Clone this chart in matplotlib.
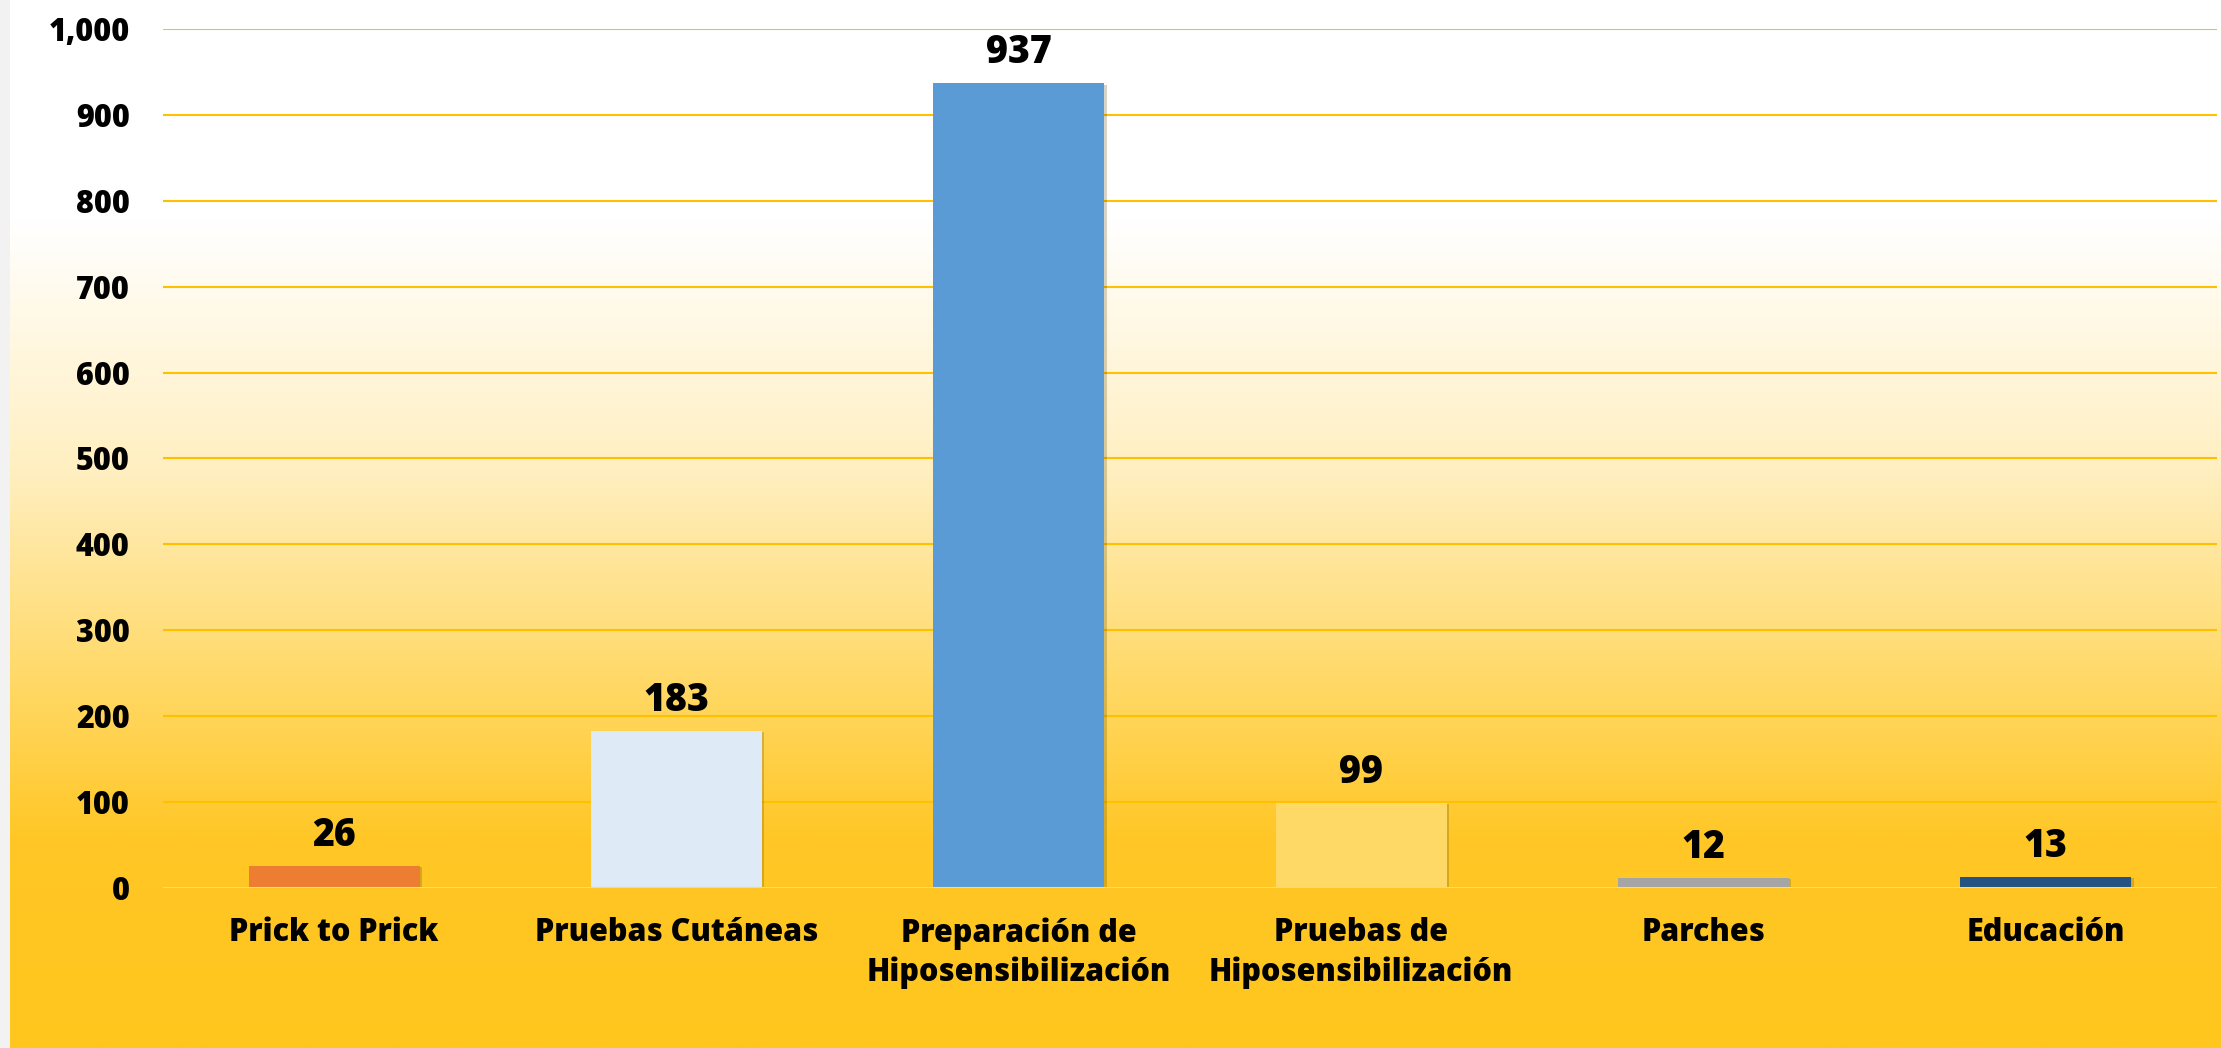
import numpy as np
import matplotlib
matplotlib.use('Agg')
import matplotlib.pyplot as plt
import matplotlib.patheffects as pe
from matplotlib.colors import LinearSegmentedColormap
from matplotlib.ticker import FuncFormatter

# ----------------------------------------------------------------------------------------------------------------------
# data
categories = ['Prick to Prick', 'Pruebas Cutáneas', 'Preparación de\nHiposensibilización',
              'Pruebas de\nHiposensibilización', 'Parches', 'Educación']
values = [26, 183, 937, 99, 12, 13]
bar_colors = ['#ED7D31', '#DEEAF6', '#5B9BD5', '#FFD966', '#A5A5A5', '#245381']
y_ticks = [0, 100, 200, 300, 400, 500, 600, 700, 800, 900, 1000]
# ----------------------------------------------------------------------------------------------------------------------

plt.rcParams['font.family'] = ['Open Sans', 'DejaVu Sans']
plt.rcParams['font.weight'] = 800

fig = plt.figure(figsize=(22.21, 10.48), dpi=100, facecolor='#F2F2F2')

# background gradient (white at top -> yellow at bottom)
ax_bg = fig.add_axes([10 / 2221, 0, 1 - 10 / 2221, 1])
ax_bg.set_axis_off()
grad_cmap = LinearSegmentedColormap.from_list(
    'bg', [(0.0, '#FFFFFF'), (0.21, '#FFFFFF'), (0.45, '#FFEFC0'), (0.62, '#FFDC74'),
           (0.80, '#FFC726'), (1.0, '#FFC61E')])
grad = np.linspace(0, 1, 512).reshape(-1, 1)
ax_bg.imshow(grad, aspect='auto', cmap=grad_cmap, extent=[0, 1, 0, 1], origin='upper')

# main axes
ax = fig.add_axes([163 / 2221, 160 / 1048, 2054 / 2221, 859 / 1048])
ax.patch.set_alpha(0)
x_pos = np.arange(len(categories))

ax.set_ylim(0, 1000)
ax.set_xlim(-0.5, len(categories) - 0.5)
ax.set_yticks(y_ticks)
ax.yaxis.set_major_formatter(FuncFormatter(lambda v, p: '{:,.0f}'.format(v)))
ax.grid(axis='y', color='#FFC000', linewidth=1.5, zorder=0)
ax.set_axisbelow(True)
for sp in ax.spines.values():
    sp.set_visible(False)
ax.tick_params(axis='both', length=0, labelsize=22)
ax.tick_params(axis='y', pad=24)
ax.tick_params(axis='x', pad=21)

bars = ax.bar(x_pos, values, width=0.5, color=bar_colors, zorder=3)
for bar in bars:
    bar.set_path_effects([pe.SimplePatchShadow(offset=(1.5, -1), alpha=0.22, shadow_rgbFace='#4a3a00'),
                          pe.Normal()])

ax.axhline(0, color='#D9D9D9', linewidth=2.2, zorder=4)

ax.set_xticks(x_pos)
ax.set_xticklabels(categories, fontsize=22, fontweight=800, linespacing=1.28)

for xv, yv in zip(x_pos, values):
    ax.annotate('{:,}'.format(yv), xy=(xv, yv), xytext=(0, 8), textcoords='offset points',
                ha='center', va='bottom', fontsize=27, fontweight=800, color='black', zorder=5)

fig.savefig('out.png', dpi=100, facecolor=fig.get_facecolor())
